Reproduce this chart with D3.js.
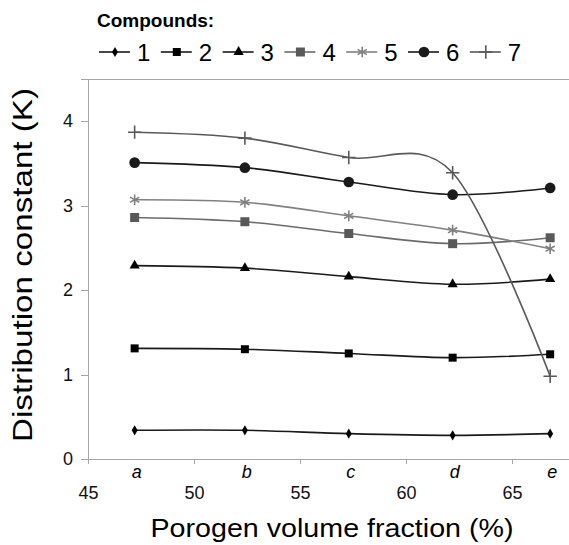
<!DOCTYPE html>
<html>
<head>
<meta charset="utf-8">
<title>Distribution constant</title>
<script src="https://d3js.org/d3.v7.min.js"></script>
<style>
body { margin: 0; background: #fff; font-family: "Liberation Sans", Arial, sans-serif; }
.axis path, .axis line { fill: none; stroke: #a6a6a6; shape-rendering: crispEdges; }
.axis text { font-size: 18px; fill: #111; }
</style>
</head>
<body>
<script>
// porogen fractions of mixtures a..e
var porogen = [47.2, 52.4, 57.3, 62.2, 66.8];
var mixLabels = ["a", "b", "c", "d", "e"];
var compounds = ["1", "2", "3", "4", "5", "6", "7"];
var k1 = [0.34, 0.34, 0.30, 0.28, 0.30];
var k2 = [1.31, 1.30, 1.25, 1.20, 1.24];
var k3 = [2.29, 2.26, 2.16, 2.07, 2.13];
var k4 = [2.86, 2.81, 2.67, 2.55, 2.62];
var k5 = [3.07, 3.04, 2.88, 2.71, 2.49];
var k6 = [3.51, 3.45, 3.28, 3.13, 3.21];
var k7 = [3.87, 3.80, 3.57, 3.39, 0.98];
var xTicks = [45, 50, 55, 60, 65];
var yTicks = [0, 1, 2, 3, 4];

var series = [k1, k2, k3, k4, k5, k6, k7];
var styles = [
  {sym: d3.symbolDiamond, size: 30, fill: "#000", line: "#1a1a1a"},
  {sym: d3.symbolSquare, size: 64, fill: "#000", line: "#1a1a1a"},
  {sym: d3.symbolTriangle, size: 45, fill: "#000", line: "#1a1a1a"},
  {sym: d3.symbolSquare, size: 81, fill: "#595959", line: "#6b6b6b"},
  {sym: d3.symbolAsterisk, size: 80, fill: "#808080", line: "#808080"},
  {sym: d3.symbolCircle, size: 90, fill: "#1a1a1a", line: "#1a1a1a"},
  {sym: d3.symbolPlus, size: 60, fill: "#595959", line: "#595959"}
];

var W = 569, H = 545;
var svg = d3.select("body").append("svg").attr("width", W).attr("height", H);

var x = d3.scaleLinear().domain([45, 70]).range([88, 618]);
var y = d3.scaleLinear().domain([0, 4.5]).range([459, 79]);

// top border of plot area
svg.append("line").attr("x1", 81).attr("x2", W).attr("y1", y(4.5) + 0.5).attr("y2", y(4.5) + 0.5)
  .attr("stroke", "#a6a6a6");

var xAxis = d3.axisBottom(x).tickValues(xTicks).tickSize(5).tickPadding(22).tickFormat(d3.format("d"));
svg.append("g").attr("class", "axis").attr("transform", "translate(0," + 459 + ")").call(xAxis);

var yAxis = d3.axisLeft(y).tickValues(yTicks).tickSize(7).tickPadding(8).tickFormat(d3.format("d"));
svg.append("g").attr("class", "axis").attr("transform", "translate(" + 88 + ",0)").call(yAxis)
  .select(".domain").attr("d", "M0.5," + y(4.5) + "V" + y(0));

// mixture letters on the axis
svg.append("g").selectAll("text").data(porogen).enter().append("text")
  .attr("x", function(d) { return x(d) + 2; })
  .attr("y", 478)
  .attr("text-anchor", "middle")
  .style("font-size", "18px").style("font-style", "italic")
  .text(function(d, i) { return mixLabels[i]; });

// axis titles
svg.append("text").attr("x", 332).attr("y", 537).attr("text-anchor", "middle")
  .attr("textLength", 363).attr("lengthAdjust", "spacingAndGlyphs")
  .style("font-size", "26px").text("Porogen volume fraction (%)");
svg.append("text").attr("transform", "translate(32,265) rotate(-90)").attr("text-anchor", "middle")
  .attr("textLength", 354).attr("lengthAdjust", "spacingAndGlyphs")
  .style("font-size", "28px").text("Distribution constant (K)");

var line = d3.line()
  .x(function(d, i) { return x(porogen[i]); })
  .y(function(d) { return y(d); })
  .curve(d3.curveCardinal.tension(0));

series.forEach(function(s, j) {
  var st = styles[j];
  svg.append("path").datum(s).attr("d", line)
    .attr("fill", "none").attr("stroke", st.line).attr("stroke-width", 1.6);
  var sym = d3.symbol().type(st.sym).size(st.size);
  svg.append("g").selectAll("path").data(s).enter().append("path")
    .attr("transform", function(d, i) { return "translate(" + x(porogen[i]) + "," + y(d) + ")"; })
    .attr("d", sym)
    .attr("fill", st.fill)
    .attr("stroke", (st.sym === d3.symbolAsterisk || st.sym === d3.symbolPlus) ? st.fill : "none")
    .attr("stroke-width", 1.6);
});

// legend
svg.append("text").attr("x", 97).attr("y", 27).style("font-size", "19px").style("font-weight", "bold")
  .text("Compounds:");
var leg = svg.append("g").selectAll("g").data(compounds).enter().append("g")
  .attr("transform", function(d, i) { return "translate(" + (99 + i * 61.8) + ",52)"; });
leg.append("line").attr("x1", 0).attr("x2", 31).attr("y1", 0).attr("y2", 0)
  .attr("stroke", function(d, i) { return styles[i].line; }).attr("stroke-width", 1.6);
leg.append("path").attr("transform", "translate(16,0)")
  .attr("d", function(d, i) { return d3.symbol().type(styles[i].sym).size(styles[i].size)(); })
  .attr("fill", function(d, i) { return styles[i].fill; })
  .attr("stroke", function(d, i) { return (i === 4 || i === 6) ? styles[i].fill : "none"; })
  .attr("stroke-width", 1.6);
leg.append("text").attr("x", 38).attr("y", 8.5).style("font-size", "24px")
  .text(function(d) { return d; });
</script>
</body>
</html>
